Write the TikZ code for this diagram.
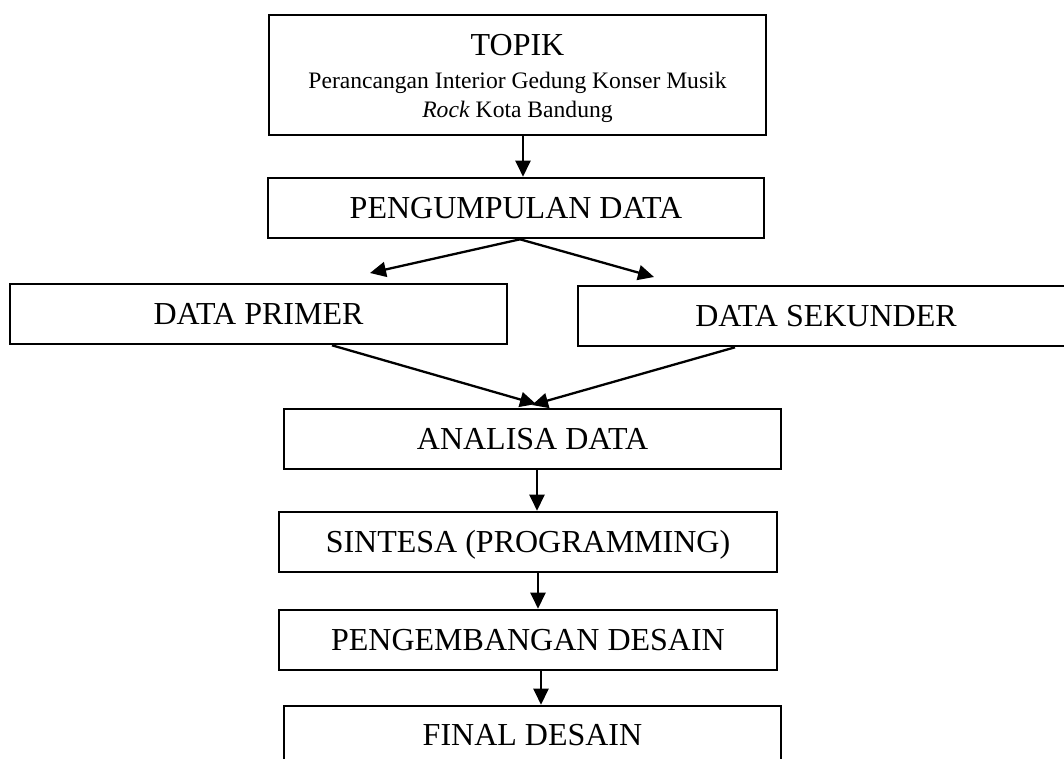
\documentclass[tikz,border=0pt]{standalone}
\usepackage{fontspec}
\setmainfont{Liberation Serif}
\usetikzlibrary{arrows.meta}
\begin{document}
\begin{tikzpicture}[x=1pt,y=-1pt,
  box/.style={draw, line width=2.6pt, inner sep=0pt, font=\fontsize{32}{38}\selectfont, text height=21pt, text depth=0pt, minimum height=60pt},
  lbl/.style={anchor=base, inner sep=0pt},
  arr/.style={line width=2.3pt, -{Triangle[length=16pt,width=15pt]}},
]
\clip (0,0) rectangle (1064,758);
% boxes
\node[box, minimum width=497pt, minimum height=120pt] (topik) at (517.5,75) {};
\node[lbl, font=\fontsize{32}{38}\selectfont] (ttitle) at (517.5,55) {TOPIK};
\node[lbl, font=\fontsize{23.6}{28}\selectfont] (tline1) at (517.5,88) {Perancangan Interior Gedung Konser Musik};
\node[lbl, font=\fontsize{23.6}{28}\selectfont] (tline2) at (517.5,117) {\textit{Rock} Kota Bandung};
\node[box, minimum width=496pt] (peng) at (516,208) {PENGUMPULAN DATA};
\node[box, minimum width=497pt] (primer) at (258.5,314) {DATA PRIMER};
\node[box, minimum width=496pt] (sekunder) at (826,316) {DATA SEKUNDER};
\node[box, minimum width=497pt] (analisa) at (532.5,439) {ANALISA DATA};
\node[box, minimum width=498pt] (sintesa) at (528,542) {SINTESA (PROGRAMMING)};
\node[box, minimum width=498pt] (pengemb) at (528,640) {PENGEMBANGAN DESAIN};
\node[box, minimum width=497pt, minimum height=58pt] (final) at (532.5,735) {FINAL DESAIN};
% free ends
\coordinate (tipP) at (370,273);
\coordinate (tipS) at (654,277);
\coordinate (tipA1) at (536,404);
\coordinate (tipA2) at (532,405);
% connectors
\draw[arr] ([xshift=5.5pt]topik.south) -- ([xshift=7pt]peng.north);
\draw[arr] ([xshift=4pt]peng.south) -- (tipP);
\draw[arr] ([xshift=4pt]peng.south) -- (tipS);
\draw[arr] ([xshift=73.5pt]primer.south) -- (tipA1);
\draw[arr] ([xshift=-91pt]sekunder.south) -- (tipA2);
\draw[arr] ([xshift=4.5pt]analisa.south) -- ([xshift=9pt]sintesa.north);
\draw[arr] ([xshift=10pt]sintesa.south) -- ([xshift=10pt]pengemb.north);
\draw[arr] ([xshift=13pt]pengemb.south) -- ([xshift=8.5pt]final.north);
\end{tikzpicture}
\end{document}
